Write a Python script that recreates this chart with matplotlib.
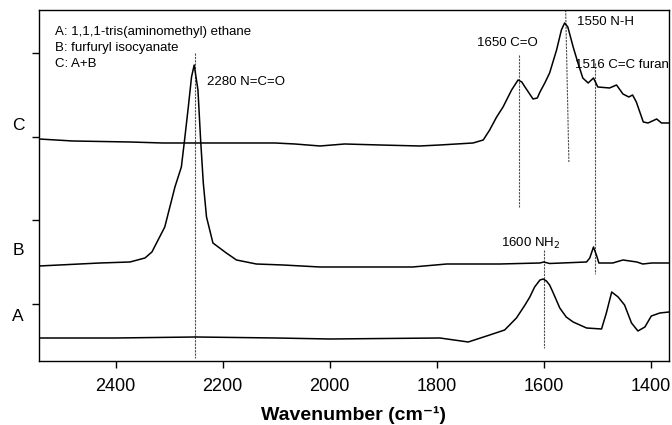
import numpy as np
import matplotlib
matplotlib.use("Agg")
import matplotlib.pyplot as plt

plt.rcParams['font.family'] = ['Liberation Sans', 'DejaVu Sans']

# spectra (wavenumber, offset absorbance)
wn_c = [2543, 2480, 2373, 2312, 2186, 2102, 2065, 2018, 1972, 1906, 1832, 1794,
        1732, 1713, 1701, 1688, 1676, 1660, 1648, 1641, 1635, 1620, 1612, 1607,
        1598, 1589, 1576, 1567, 1561, 1555, 1545, 1536, 1527, 1517, 1507, 1499,
        1477, 1464, 1452, 1441, 1434, 1427, 1414, 1405, 1389, 1380, 1366]
ab_c = [2.22, 2.20, 2.19, 2.18, 2.18, 2.18, 2.17, 2.15, 2.17, 2.16, 2.15, 2.16,
        2.18, 2.21, 2.31, 2.44, 2.54, 2.71, 2.81, 2.79, 2.74, 2.62, 2.63, 2.69,
        2.78, 2.88, 3.11, 3.31, 3.38, 3.34, 3.14, 2.98, 2.83, 2.78, 2.83, 2.74,
        2.73, 2.76, 2.67, 2.64, 2.66, 2.59, 2.39, 2.38, 2.42, 2.38, 2.38]

wn_b = [2543, 2429, 2373, 2345, 2332, 2308, 2289, 2277, 2271, 2264, 2258, 2253,
        2246, 2241, 2236, 2230, 2218, 2193, 2174, 2137, 2087, 2018, 1845, 1781,
        1682, 1607, 1600, 1589, 1520, 1514, 1507, 1501, 1497, 1471, 1452, 1426,
        1415, 1398, 1366]
ab_b = [0.95, 0.98, 0.99, 1.03, 1.09, 1.34, 1.74, 1.94, 2.21, 2.54, 2.84, 2.96,
        2.71, 2.21, 1.78, 1.44, 1.18, 1.08, 1.01, 0.97, 0.96, 0.94, 0.94, 0.97,
        0.97, 0.98, 0.99, 0.975, 0.99, 1.03, 1.14, 1.05, 0.98, 0.98, 1.01, 0.99,
        0.97, 0.98, 0.98]

wn_a = [2543, 2400, 2250, 2100, 2000, 1794, 1741, 1701, 1673, 1651, 1635, 1626,
        1617, 1607, 1601, 1595, 1589, 1583, 1570, 1558, 1545, 1520, 1492, 1483,
        1473, 1461, 1449, 1436, 1424, 1411, 1399, 1383, 1366]
ab_a = [0.23, 0.23, 0.24, 0.23, 0.22, 0.23, 0.19, 0.26, 0.31, 0.43, 0.56, 0.64,
        0.74, 0.81, 0.82, 0.80, 0.76, 0.69, 0.53, 0.44, 0.39, 0.33, 0.32, 0.48,
        0.69, 0.64, 0.56, 0.38, 0.30, 0.34, 0.45, 0.48, 0.49]

# marker lines: (x_top, x_bottom, y_top, y_bottom)
mark_lines = [(2251, 2251, 3.08, 0.03), (1647, 1647, 3.06, 1.54),
              (1559, 1553, 3.51, 1.99), (1505, 1505, 2.98, 0.87),
              (1600, 1600, 1.11, 0.13)]
mark_labels = [(2229, 2.79, '2280 N=C=O'), (1725, 3.18, '1650 C=O'),
               (1538, 3.39, '1550 N-H'), (1542, 2.96, '1516 C=C furan'),
               (1680, 1.18, '1600 NH$_2$')]
legend_lines = ['A: 1,1,1-tris(aminomethyl) ethane', 'B: furfuryl isocyanate', 'C: A+B']
trace_names = [('C', 2.355), ('B', 1.10), ('A', 0.44)]

fig = plt.figure(figsize=(6.72, 4.25), dpi=100)
ax = fig.add_axes([0.058, 0.1506, 0.9375, 0.8259])

for x0, x1, y0, y1 in mark_lines:
    ax.plot([x0, x1], [y0, y1], color='0.3', lw=0.8, ls=(0, (2, 1)))

for wn, ab in [(wn_c, ab_c), (wn_b, ab_b), (wn_a, ab_a)]:
    ax.plot(wn, ab, color='black', lw=1.1)

for x, y, s in mark_labels:
    ax.text(x, y, s, fontsize=9.5, ha='left', va='center')

for i, s in enumerate(legend_lines):
    ax.text(2513, 3.29 - 0.16 * i, s, fontsize=9.5, ha='left', va='center')

for s, y in trace_names:
    ax.text(-0.033, y, s, transform=ax.get_yaxis_transform(), fontsize=12.5,
            ha='center', va='center')

ax.set_xlim(2543, 1366)
ax.set_ylim(0, 3.51)
ax.set_xticks([2400, 2200, 2000, 1800, 1600, 1400])
ax.set_yticks([0.57, 1.41, 2.24, 3.08])
ax.set_yticklabels([])
ax.tick_params(direction='out', length=5, width=1.0, labelsize=13, pad=7)
for sp in ax.spines.values():
    sp.set_linewidth(1.0)
ax.set_xlabel('Wavenumber (cm\u207b\u00b9)', fontsize=14, fontweight='bold', labelpad=8)

fig.savefig('out.png', dpi=100)
